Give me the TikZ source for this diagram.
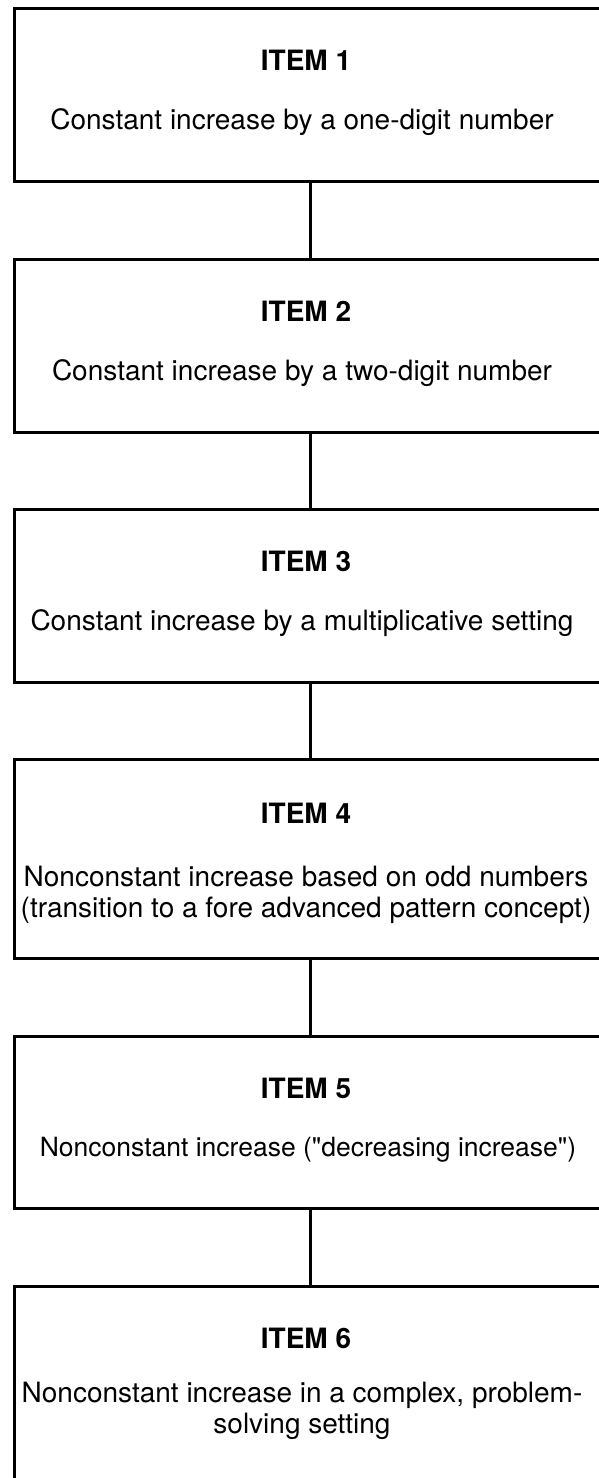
\documentclass[tikz,border=0pt]{standalone}
\usepackage{fontspec}
\setmainfont{TeX Gyre Heros}
\begin{document}
\begin{tikzpicture}[x=1pt,y=-1pt,
  itembox/.style={draw=black,line width=3.4pt,rectangle,anchor=north west,minimum width=800pt,inner sep=0pt},
  title/.style={font=\fontsize{28}{32}\selectfont\bfseries,anchor=base,inner sep=0pt},
  body/.style={font=\fontsize{28}{30.5}\selectfont,align=center,anchor=north,inner sep=0pt},
  link/.style={draw=black,line width=3pt}]
\useasboundingbox (0,0) rectangle (599,1478);
\clip (0,0) rectangle (599,1478);
\coordinate (cx) at (310,0);
% boxes
\node[itembox,minimum height=173pt] (b1) at (13,7) {};
\node[itembox,minimum height=173pt] (b2) at (13,258) {};
\node[itembox,minimum height=173pt] (b3) at (13,508) {};
\node[itembox,minimum height=199pt] (b4) at (13,758) {};
\node[itembox,minimum height=172pt] (b5) at (13,1035) {};
\node[itembox,minimum height=260pt] (b6) at (13,1285) {};
% titles
\node[title] (t1) at (306,70) {ITEM 1};
\node[title] (t2) at (306,321) {ITEM 2};
\node[title] (t3) at (306,571) {ITEM 3};
\node[title] (t4) at (306,823) {ITEM 4};
\node[title] (t5) at (306,1098) {ITEM 5};
\node[title] (t6) at (306,1348) {ITEM 6};
% bodies
\node[body] (d1) at (302,108) {Constant increase by a one-digit number};
\node[body] (d2) at (302,359) {Constant increase by a two-digit number};
\node[body] (d3) at (302,609) {Constant increase by a multiplicative setting};
\node[body] (d4) at (306,866) {Nonconstant increase based on odd numbers\\(transition to a fore advanced pattern concept)};
\node[body,font=\fontsize{26.5}{30}\selectfont] (d5) at (308,1137) {Nonconstant increase (\textquotedbl decreasing increase\textquotedbl)};
\node[body] (d6) at (302,1382) {Nonconstant increase in a complex, problem-\\solving setting};
% connectors
\draw[link] (b1.south -| cx) -- (b2.north -| cx);
\draw[link] (b2.south -| cx) -- (b3.north -| cx);
\draw[link] (b3.south -| cx) -- (b4.north -| cx);
\draw[link] (b4.south -| cx) -- (b5.north -| cx);
\draw[link] (b5.south -| cx) -- (b6.north -| cx);
\end{tikzpicture}
\end{document}
